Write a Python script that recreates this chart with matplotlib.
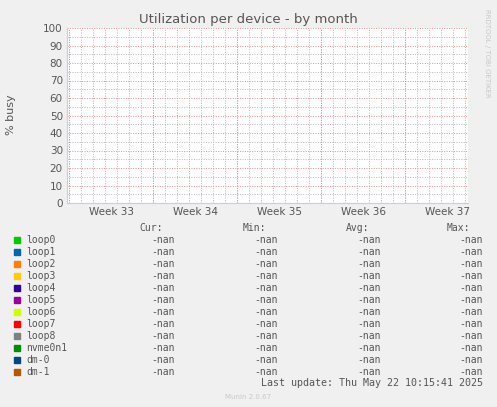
import numpy as np
import matplotlib
matplotlib.use("Agg")
import matplotlib.pyplot as plt

W, H = 497, 407

devices = ["loop0", "loop1", "loop2", "loop3", "loop4", "loop5", "loop6",
           "loop7", "loop8", "nvme0n1", "dm-0", "dm-1"]
colors = ["#00cc00", "#0066b3", "#ff8000", "#ffcc00", "#330099", "#990099",
          "#ccff00", "#ff0000", "#808080", "#008f00", "#00487d", "#b35a00"]
cur = ["-nan"] * len(devices)
mins = ["-nan"] * len(devices)
avgs = ["-nan"] * len(devices)
maxs = ["-nan"] * len(devices)
week_labels = ["Week 33", "Week 34", "Week 35", "Week 36", "Week 37"]
week_starts = [0.17, 7.17, 14.17, 21.17, 28.17]  # days from left edge

fig = plt.figure(figsize=(W / 100, H / 100), dpi=100, facecolor="#f0f0f0")

def px(x, y):
    return x / W, 1 - y / H

x0, y0 = px(67, 203)
x1, y1 = px(468, 28)
ax = fig.add_axes([x0, y0, x1 - x0, y1 - y0], facecolor="white")
ax.set_xlim(0, 401 / 12)
ax.set_ylim(0, 100)

# empty series (all nan)
days = np.arange(0, 34)
for d, c in zip(devices, colors):
    ax.plot(days, np.full(len(days), np.nan), color=c)

grid_ls = (0, (1, 1.5))
for d in np.arange(week_starts[0], 34, 1):
    ax.axvline(d, color="#b8b8b8", lw=0.7, ls=grid_ls, zorder=0)
for y in np.arange(5, 100, 10):
    ax.axhline(y, color="#b8b8b8", lw=0.7, ls=grid_ls, zorder=0)
for d in week_starts:
    ax.axvline(d, color="#e09090", lw=0.7, ls=grid_ls, zorder=0)
for y in np.arange(10, 101, 10):
    ax.axhline(y, color="#e09090", lw=0.7, ls=grid_ls, zorder=0)

ax.set_yticks(np.arange(0, 101, 10))
ax.set_xticks([s + 3.5 for s in week_starts])
ax.set_xticklabels(week_labels)
ax.tick_params(colors="#555555", labelsize=7.5, length=0, pad=3)
for s in ["top", "right"]:
    ax.spines[s].set_visible(False)
ax.spines["left"].set_color("#c8c8ff")
ax.spines["bottom"].set_color("#c8c8ff")
fig.text(*px(11, 115), "% busy", rotation=90, ha="center", va="center",
         color="#555555", fontsize=8)

fig.text(*px(248, 20), "Utilization per device - by month", ha="center",
         va="center", fontsize=9.5, color="#555555")
fig.text(*px(487, 53), "RRDTOOL / TOBI OETIKER", rotation=270, ha="center",
         va="center", fontsize=5, color="#c8c8c8")

mono = "DejaVu Sans Mono"
fs = 7
for hx, h in [(163, "Cur:"), (266, "Min:"), (369, "Avg:"), (470, "Max:")]:
    fig.text(*px(hx, 228), h, ha="right", va="center", family=mono,
             fontsize=fs, color="#555555")
for i, (d, c) in enumerate(zip(devices, colors)):
    y = 240 + 12 * i
    fig.patches.append(plt.Rectangle(px(14, y + 3), 6 / W, 6 / H,
                                     transform=fig.transFigure, color=c))
    fig.text(*px(26, y), d, ha="left", va="center", family=mono,
             fontsize=fs, color="#555555")
    for vx, v in [(175, cur[i]), (278, mins[i]), (381, avgs[i]), (483, maxs[i])]:
        fig.text(*px(vx, y), v, ha="right", va="center", family=mono,
                 fontsize=fs, color="#555555")

fig.text(*px(483, 383), "Last update: Thu May 22 10:15:41 2025", ha="right",
         va="center", family=mono, fontsize=7.2, color="#555555")
fig.text(*px(248, 397), "Munin 2.0.67", ha="center", va="center",
         fontsize=5, color="#c8c8c8")

fig.savefig("out.png", dpi=100, facecolor=fig.get_facecolor())
